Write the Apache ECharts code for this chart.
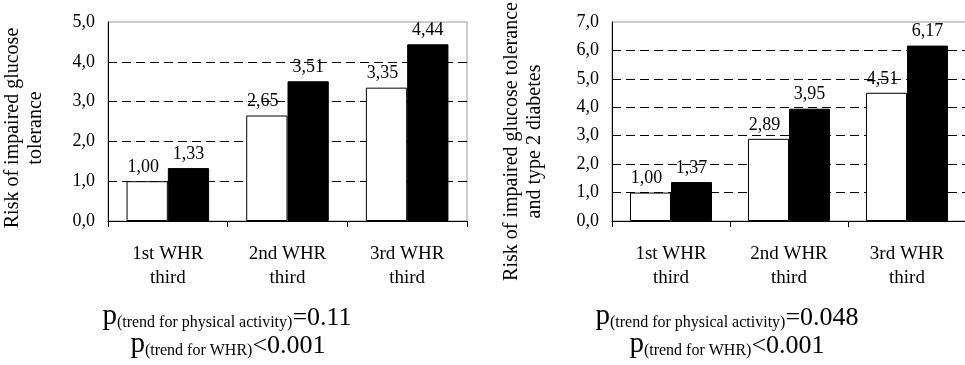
<!DOCTYPE html>
<html>
<head>
<meta charset="utf-8">
<script src="https://cdn.jsdelivr.net/npm/echarts@6/dist/echarts.min.js"></script>
<style>
html, body { margin: 0; padding: 0; background: #fff; }
#main { width: 965px; height: 365px; }
</style>
</head>
<body>
<div id="main"></div>
<script>
// data
const categories = ['1st WHR\nthird', '2nd WHR\nthird', '3rd WHR\nthird']
const igtWhite = [1.00, 2.65, 3.35]
const igtBlack = [1.33, 3.51, 4.44]
const dmWhite = [1.00, 2.89, 4.51]
const dmBlack = [1.37, 3.95, 6.17]
const pActivity = ['=0.11', '=0.048']
const pWhr = ['<0.001', '<0.001']

const FONT = 'Liberation Serif'
let myChart = echarts.init(document.getElementById('main'))

const comma = (v, d) => v.toFixed(d).replace('.', ',')

function xAxisFor(gridIndex) {
    return {
        type: 'category',
        gridIndex: gridIndex,
        data: categories,
        axisLine: { lineStyle: { color: '#000', width: 1 } },
        axisTick: { show: true, length: 6, lineStyle: { color: '#000' } },
        axisLabel: {
            color: '#000', fontFamily: FONT, fontSize: 19, lineHeight: 24, margin: 21
        }
    }
}

function yAxisFor(gridIndex, max, name, nameGap, shift) {
    return {
        type: 'value',
        gridIndex: gridIndex,
        min: 0,
        max: max,
        interval: 1,
        name: name,
        nameLocation: 'middle',
        nameRotate: 90,
        nameGap: nameGap,
        nameTextStyle: {
            color: '#000', fontFamily: FONT, fontSize: 20, lineHeight: 23,
            padding: [0, shift * 2, 0, 0]
        },
        axisLine: { show: true, lineStyle: { color: '#000', width: 1 } },
        axisTick: { show: false },
        axisLabel: {
            color: '#000', fontFamily: FONT, fontSize: 18, margin: 13,
            formatter: v => comma(v, 1)
        },
        splitLine: {
            show: true,
            showMinLine: false,
            showMaxLine: false,
            lineStyle: { color: '#000', type: [9, 5], width: 1 }
        }
    }
}

function barSeries(idx, values, fill, gap, dx) {
    return {
        type: 'bar',
        xAxisIndex: idx,
        yAxisIndex: idx,
        data: values,
        barGap: '0%',
        barCategoryGap: gap,
        itemStyle: { color: fill, borderColor: '#000', borderWidth: 1 },
        label: {
            show: true,
            position: 'top',
            distance: 5,
            offset: [dx, 0],
            color: '#000',
            fontFamily: FONT,
            fontSize: 18,
            formatter: p => comma(p.value, 2)
        }
    }
}

function pText(x, y, sub, val) {
    return {
        type: 'text',
        x: x,
        y: y,
        style: {
            text: '{p|p}{s|(' + sub + ')}{v|' + val + '}',
            align: 'center',
            verticalAlign: 'bottom',
            fill: '#000',
            rich: {
                p: { fontFamily: FONT, fontSize: 29, lineHeight: 29, verticalAlign: 'bottom', fill: '#000' },
                s: { fontFamily: FONT, fontSize: 16, lineHeight: 15, verticalAlign: 'bottom', fill: '#000' },
                v: { fontFamily: FONT, fontSize: 26, lineHeight: 26, verticalAlign: 'bottom', fill: '#000' }
            }
        }
    }
}

let option = {
    backgroundColor: '#fff',
    animation: false,
    grid: [
        { left: 108, top: 22, width: 359, height: 199, outerBoundsMode: 'none', containLabel: false, show: true, borderColor: '#999', borderWidth: 1, backgroundColor: 'transparent' },
        { left: 612, top: 22, width: 354, height: 199, outerBoundsMode: 'none', containLabel: false, show: true, borderColor: '#999', borderWidth: 1, backgroundColor: 'transparent' }
    ],
    xAxis: [xAxisFor(0), xAxisFor(1)],
    yAxis: [
        yAxisFor(0, 5, 'Risk of impaired glucose\ntolerance', 61, 6.5),
        yAxisFor(1, 7, 'Risk of impaired glucose tolerance\nand type 2 diabetes', 66, 20)
    ],
    series: [
        barSeries(0, igtWhite, '#fff', '31%', -4),
        barSeries(0, igtBlack, '#000', '31%', 0),
        barSeries(1, dmWhite, '#fff', '30.5%', -4),
        barSeries(1, dmBlack, '#000', '30.5%', 0)
    ],
    graphic: [
        pText(227, 331, 'trend for physical activity', pActivity[0]),
        pText(228, 359, 'trend for WHR', pWhr[0]),
        pText(727, 331, 'trend for physical activity', pActivity[1]),
        pText(727, 359, 'trend for WHR', pWhr[1])
    ]
}

myChart.setOption(option)
</script>
</body>
</html>
